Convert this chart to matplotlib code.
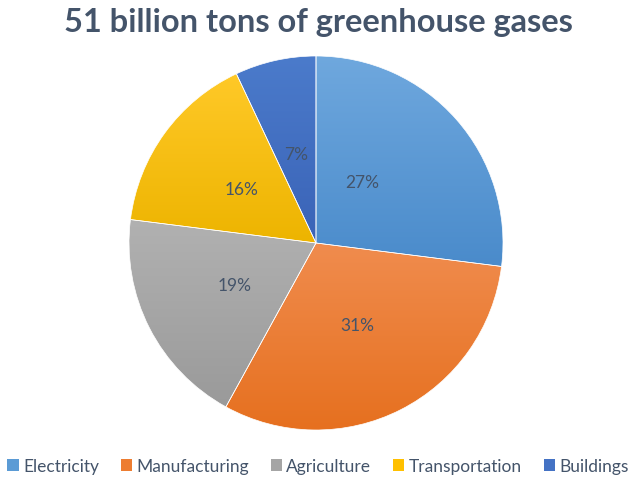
import numpy as np
import matplotlib
matplotlib.use("Agg")
import matplotlib.pyplot as plt
from matplotlib.colors import LinearSegmentedColormap

# data
sectors = ["Electricity", "Manufacturing", "Agriculture", "Transportation", "Buildings"]
shares = [27, 31, 19, 16, 7]
title = "51 billion tons of greenhouse gases"

# (top colour, bottom colour) of each slice gradient
colors = ["#5B9BD5", "#ED7D31", "#A5A5A5", "#FFC000", "#4472C4"]
tops = ["#6FA8DE", "#F08C4E", "#B1B1B1", "#FFC928", "#4B7BCB"]
bottoms = ["#4A8BCB", "#E6701F", "#9A9A9A", "#EDB400", "#3A63B7"]

text_col = "#44546A"
plt.rcParams["font.family"] = ["Lato", "DejaVu Sans"]

fig = plt.figure(figsize=(6.36, 4.81), dpi=100)
ax = fig.add_axes([(316 - 187) / 636, (481 - 431) / 481, 374 / 636, 374 / 481])

wedges, texts, autotexts = ax.pie(
    shares, colors=colors, startangle=90, counterclock=False,
    autopct="%1.0f%%", pctdistance=0.49,
    wedgeprops=dict(edgecolor="white", linewidth=0.5),
    textprops=dict(color=text_col, fontsize=12.5),
)

# vertical gradient inside each slice
grad = np.linspace(0, 1, 256).reshape(-1, 1)
for w, c1, c2 in zip(wedges, tops, bottoms):
    ext = w.get_path().get_extents()
    cmap = LinearSegmentedColormap.from_list("g", [c1, c2])
    im = ax.imshow(grad, cmap=cmap, aspect="auto", origin="upper",
                   extent=[ext.x0, ext.x1, ext.y0, ext.y1], zorder=w.get_zorder())
    im.set_clip_path(w)
    w.set_facecolor("none")
    w.set_zorder(w.get_zorder() + 0.1)
for t in autotexts:
    t.set_zorder(5)

# the Electricity label sits a bit higher and closer in
ang = np.deg2rad(53)
autotexts[0].set_position((0.41 * np.cos(ang), 0.41 * np.sin(ang)))

ax.set_xlim(-1.0, 1.0)
ax.set_ylim(-1.0, 1.0)
ax.set_aspect("equal")
ax.axis("off")

fig.text(0.5, 0.953, title, ha="center", va="center", fontsize=23.5,
         fontweight="bold", color=text_col)

fig.legend(wedges, sectors, loc="center", bbox_to_anchor=(0.5, 0.029), ncol=5,
           frameon=False, fontsize=12.5, handlelength=0.65, handleheight=0.65,
           handletextpad=0.25, columnspacing=1.25, labelcolor=text_col)
for h, c in zip(fig.legends[0].legend_handles, colors):
    h.set_facecolor(c)
    h.set_edgecolor("none")

fig.savefig("out.png", dpi=100)
